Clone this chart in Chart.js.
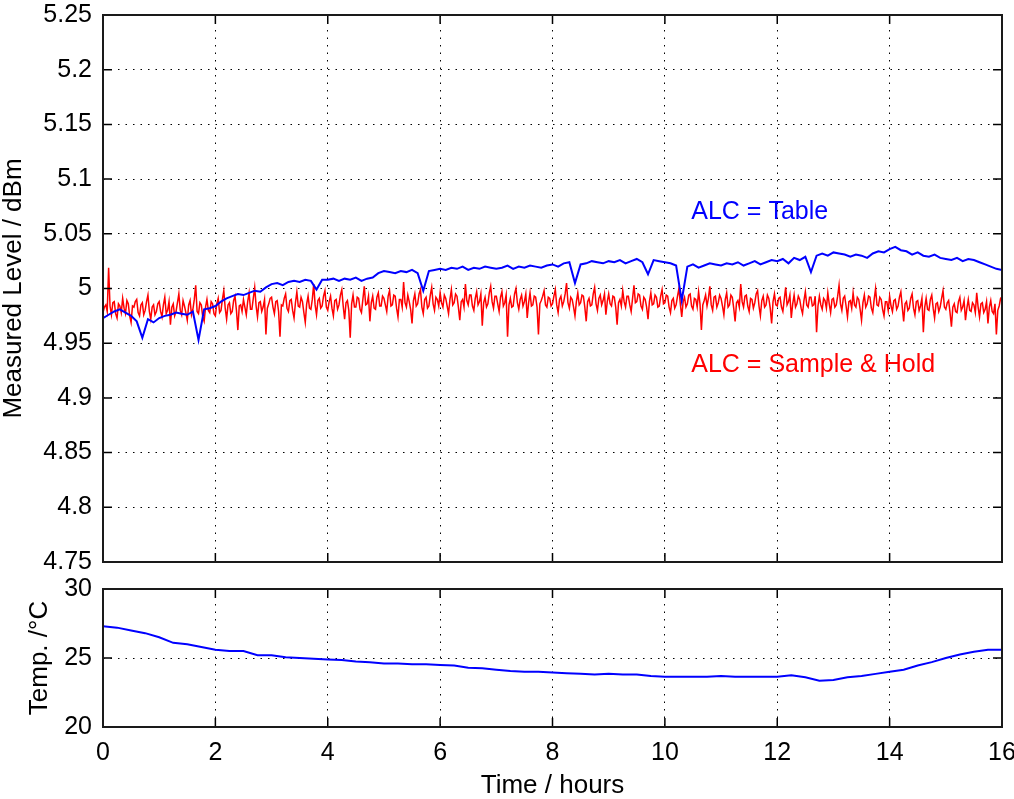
<!DOCTYPE html>
<html>
<head>
<meta charset="utf-8">
<title>ALC level drift over 16 hours</title>
<script src="https://cdn.jsdelivr.net/npm/chart.js@4.4.1/dist/chart.umd.min.js"></script>
<style>
  html, body { margin: 0; padding: 0; background: #fff; overflow: hidden; }
  #level_chart { position: absolute; left: 0; top: 0; }
  #temp_chart { position: absolute; left: 0; top: 575px; }
</style>
</head>
<body>
<canvas id="level_chart" width="1014" height="575"></canvas>
<canvas id="temp_chart" width="1014" height="224"></canvas>
<script>
"use strict";

/*--------------------------------------
    data
--------------------------------------*/

var timeTicks = [0, 2, 4, 6, 8, 10, 12, 14, 16];
var levelTicks = [4.75, 4.8, 4.85, 4.9, 4.95, 5, 5.05, 5.1, 5.15, 5.2, 5.25];
var tempTicks = [20, 25, 30];

// ALC = Table, one reading every 0.1 h
var tableStepHours = 0.1;
var levelTable = [
  4.973, 4.976, 4.979, 4.981, 4.978, 4.975, 4.970, 4.955, 4.972, 4.969,
  4.973, 4.975, 4.976, 4.978, 4.977, 4.976, 4.979, 4.953, 4.981, 4.982,
  4.984, 4.988, 4.991, 4.993, 4.995, 4.994, 4.996, 4.998, 4.997, 5.001,
  5.004, 5.005, 5.003, 5.006, 5.007, 5.006, 5.008, 5.007, 4.999, 5.008,
  5.008, 5.009, 5.007, 5.009, 5.008, 5.010, 5.007, 5.009, 5.010, 5.014,
  5.016, 5.015, 5.014, 5.016, 5.015, 5.017, 5.014, 4.998, 5.016, 5.017,
  5.018, 5.017, 5.019, 5.018, 5.020, 5.017, 5.019, 5.018, 5.020, 5.019,
  5.018, 5.019, 5.021, 5.018, 5.020, 5.019, 5.021, 5.020, 5.019, 5.021,
  5.022, 5.020, 5.023, 5.024, 5.005, 5.022, 5.023, 5.025, 5.024, 5.023,
  5.025, 5.024, 5.026, 5.023, 5.025, 5.027, 5.024, 5.013, 5.026, 5.025,
  5.024, 5.023, 5.021, 4.989, 5.020, 5.022, 5.019, 5.021, 5.023, 5.022,
  5.021, 5.023, 5.022, 5.024, 5.021, 5.023, 5.025, 5.022, 5.024, 5.026,
  5.025, 5.027, 5.023, 5.028, 5.026, 5.029, 5.015, 5.030, 5.032, 5.030,
  5.033, 5.032, 5.031, 5.029, 5.031, 5.030, 5.028, 5.032, 5.034, 5.033,
  5.036, 5.038, 5.035, 5.034, 5.031, 5.033, 5.030, 5.029, 5.031, 5.028,
  5.027, 5.026, 5.028, 5.025, 5.027, 5.026, 5.024, 5.022, 5.020, 5.018, 5.017
];

// ALC = Sample & Hold, one reading every 0.025 h (one row per hour)
var sampleHoldStepHours = 0.025;
var levelSampleHold = [
  4.978, 4.983, 4.985, 4.979, 5.019, 4.984, 4.976, 4.987, 4.988, 4.977, 4.973, 4.986, 4.984, 4.978, 4.991, 4.982, 4.977, 4.989, 4.986, 4.975,
  4.969, 4.984, 4.983, 4.988, 4.990, 4.978, 4.975, 4.985, 4.987, 4.976, 4.980, 4.988, 4.994, 4.979, 4.972, 4.983, 4.985, 4.976, 4.979, 4.986,
  4.988, 4.979, 4.974, 4.985, 4.992, 4.977, 4.980, 4.988, 4.967, 4.983, 4.986, 4.975, 4.979, 4.987, 4.995, 4.980, 4.976, 4.989, 4.984, 4.978,
  4.971, 4.985, 4.989, 4.976, 4.981, 4.990, 5.003, 4.979, 4.977, 4.987, 4.985, 4.974, 4.970, 4.983, 4.990, 4.980, 4.978, 4.988, 4.986, 4.977,
  4.975, 4.986, 4.991, 4.978, 4.980, 4.990, 4.998, 4.982, 4.972, 4.985, 4.987, 4.977, 4.979, 4.989, 4.993, 4.980, 4.962, 4.984, 4.985, 4.979,
  4.990, 4.983, 4.976, 4.988, 4.996, 4.981, 4.981, 4.991, 5.001, 4.984, 4.974, 4.987, 4.988, 4.979, 4.983, 4.990, 4.958, 4.982, 4.986, 4.991,
  4.992, 4.983, 4.977, 4.988, 4.989, 4.979, 4.956, 4.985, 4.984, 4.991, 4.995, 4.982, 4.979, 4.989, 4.990, 4.980, 4.973, 4.987, 4.997, 4.984,
  4.983, 4.992, 4.988, 4.978, 4.969, 4.986, 4.993, 4.982, 4.981, 4.990, 5.004, 4.985, 4.976, 4.989, 4.991, 4.982, 4.984, 4.993, 4.998, 4.983,
  4.980, 4.988, 4.993, 4.982, 4.975, 4.989, 4.990, 4.981, 4.985, 4.994, 4.999, 4.984, 4.972, 4.987, 4.989, 4.980, 4.955, 4.986, 4.994, 4.983,
  4.983, 4.992, 4.991, 4.981, 4.978, 4.990, 5.002, 4.985, 4.986, 4.993, 4.970, 4.987, 4.993, 4.982, 4.981, 4.992, 4.996, 4.984, 4.984, 4.993,
  4.991, 4.985, 4.979, 4.993, 4.998, 4.984, 4.985, 4.994, 4.993, 4.982, 4.974, 4.990, 4.990, 4.983, 5.006, 4.987, 4.983, 4.994, 4.988, 4.981,
  4.968, 4.989, 4.995, 4.984, 4.986, 4.995, 4.999, 4.983, 4.977, 4.990, 4.992, 4.982, 4.984, 4.994, 5.001, 4.986, 4.980, 4.992, 4.990, 4.984,
  4.996, 4.987, 4.983, 4.994, 4.991, 4.984, 4.977, 4.990, 4.999, 4.985, 4.987, 4.995, 4.993, 4.983, 4.971, 4.988, 4.990, 4.983, 5.004, 4.989,
  4.985, 4.994, 4.994, 4.984, 4.980, 4.991, 4.997, 4.985, 4.988, 4.995, 4.966, 4.987, 4.992, 4.983, 4.986, 4.996, 5.002, 4.988, 4.982, 4.993,
  4.993, 4.986, 4.979, 4.992, 4.997, 4.984, 4.987, 4.994, 4.956, 4.985, 4.991, 4.983, 4.984, 4.995, 5.000, 4.987, 4.981, 4.990, 4.994, 4.984,
  4.988, 4.995, 4.973, 4.987, 4.996, 4.984, 4.985, 4.993, 4.992, 4.983, 4.958, 4.986, 4.989, 4.993, 4.998, 4.985, 4.983, 4.992, 4.991, 4.984,
  4.986, 4.993, 4.999, 4.985, 4.978, 4.990, 4.993, 4.984, 4.988, 4.995, 5.005, 4.987, 4.982, 4.992, 4.990, 4.983, 4.975, 4.988, 4.996, 4.985,
  4.987, 4.994, 4.993, 4.983, 4.970, 4.988, 4.991, 4.984, 4.985, 4.995, 5.001, 4.986, 4.980, 4.991, 4.994, 4.985, 4.989, 4.995, 4.976, 4.988,
  4.995, 4.986, 4.984, 4.993, 4.992, 4.983, 4.967, 4.987, 4.990, 4.984, 4.998, 4.988, 4.983, 4.993, 4.993, 4.985, 4.979, 4.991, 5.003, 4.987,
  4.988, 4.995, 4.994, 4.984, 4.981, 4.992, 4.990, 4.983, 4.972, 4.988, 4.996, 4.985, 4.986, 4.994, 4.992, 4.983, 4.984, 4.993, 4.999, 4.986,
  4.987, 4.994, 4.993, 4.983, 4.978, 4.989, 4.991, 4.982, 4.985, 4.993, 5.000, 4.986, 4.974, 4.988, 4.992, 4.983, 4.986, 4.994, 4.995, 4.984,
  4.981, 4.991, 4.990, 4.983, 4.997, 4.986, 4.962, 4.985, 4.989, 4.994, 4.984, 4.991, 5.002, 4.985, 4.980, 4.992, 4.993, 4.983, 4.987, 4.994,
  4.991, 4.984, 4.976, 4.990, 4.996, 4.983, 4.985, 4.994, 4.992, 4.982, 4.970, 4.987, 4.989, 4.983, 5.004, 4.988, 4.983, 4.993, 4.994, 4.984,
  4.979, 4.991, 4.990, 4.982, 4.987, 4.995, 4.998, 4.984, 4.975, 4.989, 4.993, 4.983, 4.985, 4.994, 4.991, 4.982, 4.968, 4.988, 4.995, 4.985,
  4.984, 4.991, 4.992, 4.983, 4.979, 4.990, 5.001, 4.985, 4.988, 4.994, 4.973, 4.986, 4.994, 4.983, 4.986, 4.993, 4.990, 4.982, 4.977, 4.989,
  4.997, 4.985, 4.983, 4.992, 4.992, 4.984, 4.985, 4.993, 4.960, 4.984, 4.993, 4.985, 4.981, 4.991, 4.989, 4.982, 4.996, 4.986, 4.978, 4.990,
  4.991, 4.983, 4.985, 4.993, 5.003, 4.986, 4.980, 4.991, 4.993, 4.984, 4.974, 4.988, 4.989, 4.982, 4.996, 4.985, 4.983, 4.992, 4.990, 4.981,
  4.971, 4.987, 4.994, 4.983, 4.986, 4.993, 4.992, 4.982, 4.978, 4.990, 5.000, 4.985, 4.984, 4.992, 4.990, 4.981, 4.975, 4.988, 4.988, 4.980,
  4.993, 4.984, 4.979, 4.989, 4.990, 4.981, 4.984, 4.992, 4.997, 4.983, 4.970, 4.986, 4.988, 4.980, 4.982, 4.991, 4.995, 4.982, 4.976, 4.988,
  4.989, 4.980, 4.984, 4.991, 4.960, 4.983, 4.991, 4.981, 4.980, 4.990, 4.994, 4.982, 4.973, 4.986, 4.987, 4.979, 4.983, 4.991, 4.998, 4.983,
  4.981, 4.987, 4.989, 4.978, 4.965, 4.983, 4.986, 4.979, 4.978, 4.988, 4.992, 4.980, 4.983, 4.989, 4.971, 4.982, 4.990, 4.980, 4.979, 4.987,
  4.985, 4.978, 4.996, 4.983, 4.974, 4.986, 4.987, 4.978, 4.981, 4.988, 4.968, 4.983, 4.989, 4.979, 4.977, 4.986, 4.958, 4.980, 4.984, 4.991,
  4.990
];

// room temperature, one reading every 0.25 h
var tempStepHours = 0.25;
var tempCelsius = [
  27.3, 27.2, 27.0, 26.8, 26.5, 26.1, 26.0, 25.8,
  25.6, 25.5, 25.5, 25.2, 25.2, 25.05, 25.0, 24.95,
  24.9, 24.85, 24.75, 24.7, 24.6, 24.6, 24.55, 24.55,
  24.5, 24.45, 24.3, 24.25, 24.15, 24.05, 24.0, 24.0,
  23.95, 23.9, 23.85, 23.8, 23.85, 23.8, 23.8, 23.7,
  23.65, 23.65, 23.65, 23.65, 23.7, 23.65, 23.65, 23.65,
  23.65, 23.75, 23.6, 23.35, 23.4, 23.6, 23.7, 23.85,
  24.0, 24.15, 24.45, 24.7, 25.0, 25.25, 25.45, 25.6,
  25.6
];

/*--------------------------------------
    helpers
--------------------------------------*/

var FONT = '"Liberation Sans", Arial, sans-serif';
var DOTS = [1.5, 6];

Chart.defaults.font.family = FONT;
Chart.defaults.font.size = 25;
Chart.defaults.color = '#000';

function toPoints(values, step) {
  return values.map(function (v, i) { return { x: i * step, y: v }; });
}

function fixedTicks(list) {
  return function (scale) {
    scale.ticks = list.map(function (v) { return { value: v }; });
  };
}

// matlab style box with inward ticks on all four sides
var matlabFrame = {
  id: 'matlabFrame',
  afterDraw: function (chart, args, opts) {
    var ctx = chart.ctx, a = chart.chartArea, sx = chart.scales.x, sy = chart.scales.y;
    var len = opts.tickLength || 9;
    ctx.save();
    ctx.strokeStyle = '#000';
    ctx.lineWidth = 1.5;
    ctx.beginPath();
    sx.ticks.forEach(function (t) {
      var px = sx.getPixelForValue(t.value);
      ctx.moveTo(px, a.bottom); ctx.lineTo(px, a.bottom - len);
      ctx.moveTo(px, a.top); ctx.lineTo(px, a.top + len);
    });
    sy.ticks.forEach(function (t) {
      var py = sy.getPixelForValue(t.value);
      ctx.moveTo(a.left, py); ctx.lineTo(a.left + len, py);
      ctx.moveTo(a.right, py); ctx.lineTo(a.right - len, py);
    });
    ctx.stroke();
    ctx.lineWidth = 2;
    ctx.strokeStyle = '#1a1a1a';
    ctx.strokeRect(a.left, a.top, a.right - a.left, a.bottom - a.top);
    ctx.restore();
  }
};

// text labels placed in data coordinates
var curveLabels = {
  id: 'curveLabels',
  afterDatasetsDraw: function (chart, args, opts) {
    if (!opts.items) return;
    var ctx = chart.ctx, sx = chart.scales.x, sy = chart.scales.y;
    ctx.save();
    ctx.font = '25px ' + FONT;
    ctx.textAlign = 'left';
    ctx.textBaseline = 'middle';
    opts.items.forEach(function (it) {
      ctx.fillStyle = it.color;
      ctx.fillText(it.text, sx.getPixelForValue(it.x), sy.getPixelForValue(it.y));
    });
    ctx.restore();
  }
};

function gridOpts() {
  return { color: '#000', lineWidth: 1, drawTicks: false };
}

/*--------------------------------------
    level chart
--------------------------------------*/

new Chart(document.getElementById('level_chart').getContext('2d'), {
  type: 'line',
  data: {
    datasets: [{
      label: 'ALC = Table',
      data: toPoints(levelTable, tableStepHours),
      borderColor: '#0000ff',
      borderWidth: 2,
      pointRadius: 0,
      tension: 0
    }, {
      label: 'ALC = Sample & Hold',
      data: toPoints(levelSampleHold, sampleHoldStepHours),
      borderColor: '#ff0000',
      borderWidth: 1.5,
      pointRadius: 0,
      tension: 0
    }]
  },
  options: {
    responsive: false,
    animation: false,
    events: [],
    layout: { padding: { left: 0, right: 12, top: 15, bottom: 0 } },
    scales: {
      x: {
        type: 'linear', min: 0, max: 16,
        afterBuildTicks: fixedTicks(timeTicks),
        afterFit: function (s) { s.height = 13; s.paddingLeft = 0; s.paddingRight = 0; },
        ticks: { display: false },
        grid: gridOpts(),
        border: { display: false, dash: DOTS }
      },
      y: {
        type: 'linear', min: 4.75, max: 5.25,
        afterBuildTicks: fixedTicks(levelTicks),
        afterFit: function (s) { s.width = 103; s.paddingTop = 0; s.paddingBottom = 0; },
        ticks: { padding: 11, callback: function (v) { return String(v); } },
        grid: gridOpts(),
        border: { display: false, dash: DOTS },
        title: {
          display: true, text: 'Measured Level / dBm',
          font: { size: 26, lineHeight: 1 }, padding: { top: 1, bottom: 0 }
        }
      }
    },
    plugins: {
      legend: { display: false },
      tooltip: { enabled: false },
      matlabFrame: { tickLength: 9 },
      curveLabels: {
        items: [
          { text: 'ALC = Table', x: 10.47, y: 5.07, color: '#0000ff' },
          { text: 'ALC = Sample & Hold', x: 10.47, y: 4.930, color: '#ff0000' }
        ]
      }
    }
  },
  plugins: [matlabFrame, curveLabels]
});

/*--------------------------------------
    temperature chart
--------------------------------------*/

new Chart(document.getElementById('temp_chart').getContext('2d'), {
  type: 'line',
  data: {
    datasets: [{
      label: 'Temp.',
      data: toPoints(tempCelsius, tempStepHours),
      borderColor: '#0000ff',
      borderWidth: 2,
      pointRadius: 0,
      tension: 0
    }]
  },
  options: {
    responsive: false,
    animation: false,
    events: [],
    layout: { padding: { left: 27, right: 12, top: 14, bottom: 0 } },
    scales: {
      x: {
        type: 'linear', min: 0, max: 16,
        afterBuildTicks: fixedTicks(timeTicks),
        afterFit: function (s) { s.height = 72; s.paddingLeft = 0; s.paddingRight = 0; },
        ticks: { padding: 11, maxRotation: 0, callback: function (v) { return String(v); } },
        grid: gridOpts(),
        border: { display: false, dash: DOTS },
        title: {
          display: true, text: 'Time / hours',
          font: { size: 26, lineHeight: 1 }, padding: { top: 0, bottom: 0 }
        }
      },
      y: {
        type: 'linear', min: 20, max: 30,
        afterBuildTicks: fixedTicks(tempTicks),
        afterFit: function (s) { s.width = 76; s.paddingTop = 0; s.paddingBottom = 0; },
        ticks: { padding: 11, callback: function (v) { return String(v); } },
        grid: gridOpts(),
        border: { display: false, dash: DOTS },
        title: {
          display: true, text: 'Temp. /°C',
          font: { size: 26, lineHeight: 1 }, padding: { top: 0, bottom: 0 }
        }
      }
    },
    plugins: {
      legend: { display: false },
      tooltip: { enabled: false },
      matlabFrame: { tickLength: 9 }
    }
  },
  plugins: [matlabFrame]
});
</script>
</body>
</html>
